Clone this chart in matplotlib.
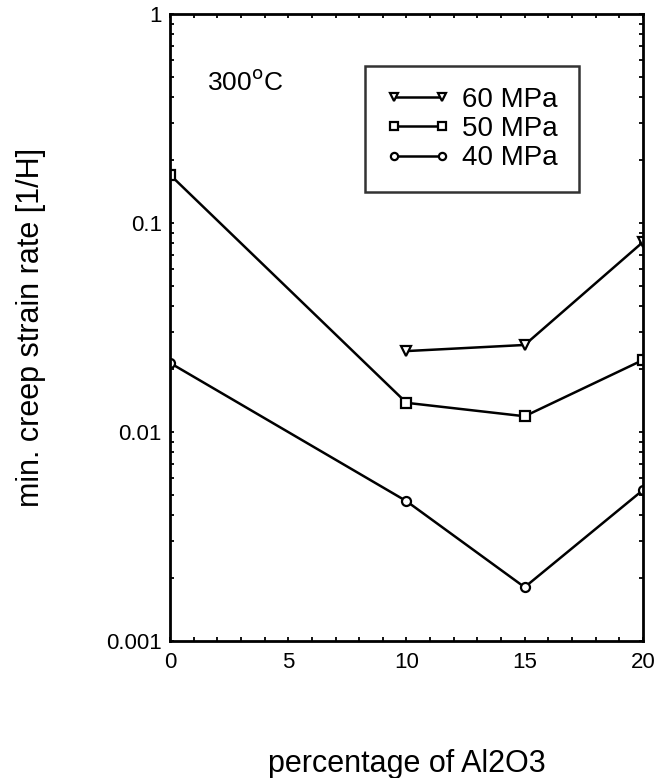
import matplotlib
matplotlib.use("Agg")
import matplotlib.pyplot as plt
from matplotlib.ticker import FixedLocator, FixedFormatter, LogLocator, NullFormatter, MultipleLocator

plt.rcParams["font.family"] = ["Liberation Sans", "DejaVu Sans"]

# data
pct_60 = [10, 15, 20]
rate_60 = [0.0244, 0.0261, 0.081]
pct_50 = [0, 10, 15, 20]
rate_50 = [0.170, 0.0138, 0.0119, 0.0221]
pct_40 = [0, 10, 15, 20]
rate_40 = [0.0214, 0.00467, 0.00181, 0.00527]

y_ticks = [0.001, 0.01, 0.1, 1]
y_tick_labels = ["0.001", "0.01", "0.1", "1"]
x_ticks = [0, 5, 10, 15, 20]

fig = plt.figure(figsize=(6.62, 7.78), dpi=100)
ax = fig.add_axes([0.257, 0.176, 0.714, 0.806])

style = dict(color="black", linewidth=1.8, markersize=6.5,
             markerfacecolor="white", markeredgecolor="black", markeredgewidth=1.6)
ax.plot(pct_60, rate_60, marker="v", label="60 MPa", **style)
ax.plot(pct_50, rate_50, marker="s", label="50 MPa", **style)
ax.plot(pct_40, rate_40, marker="o", label="40 MPa", **style)

ax.set_yscale("log")
ax.set_xlim(0, 20)
ax.set_ylim(0.001, 1)
ax.yaxis.set_major_locator(FixedLocator(y_ticks))
ax.yaxis.set_major_formatter(FixedFormatter(y_tick_labels))
ax.yaxis.set_minor_locator(LogLocator(base=10, subs=range(2, 10)))
ax.yaxis.set_minor_formatter(NullFormatter())
ax.xaxis.set_major_locator(FixedLocator(x_ticks))
ax.xaxis.set_minor_locator(MultipleLocator(1))

ax.tick_params(which="both", direction="in", top=True, right=True,
               length=3, width=1.3, labelsize=16)
ax.tick_params(axis="y", pad=6)
ax.tick_params(axis="x", pad=8)
for s in ax.spines.values():
    s.set_linewidth(2.0)

ax.set_xlabel("percentage of Al2O3", fontsize=22)
ax.set_ylabel("min. creep strain rate [1/H]", fontsize=22)
ax.xaxis.set_label_coords(0.5, -0.172)
ax.yaxis.set_label_coords(-0.262, 0.5)

ax.text(0.078, 0.891, r"300$^{\mathrm{o}}$C", transform=ax.transAxes,
        fontsize=19, va="center", ha="left")

leg = ax.legend(loc="upper left", bbox_to_anchor=(0.412, 0.917), borderaxespad=0,
                numpoints=2, handlelength=2.35, handletextpad=0.42, fontsize=20,
                frameon=True, fancybox=False, edgecolor="black",
                borderpad=0.74, labelspacing=0.12, markerscale=0.8)
leg.get_frame().set_linewidth(1.8)

fig.savefig("out.png", dpi=100)
